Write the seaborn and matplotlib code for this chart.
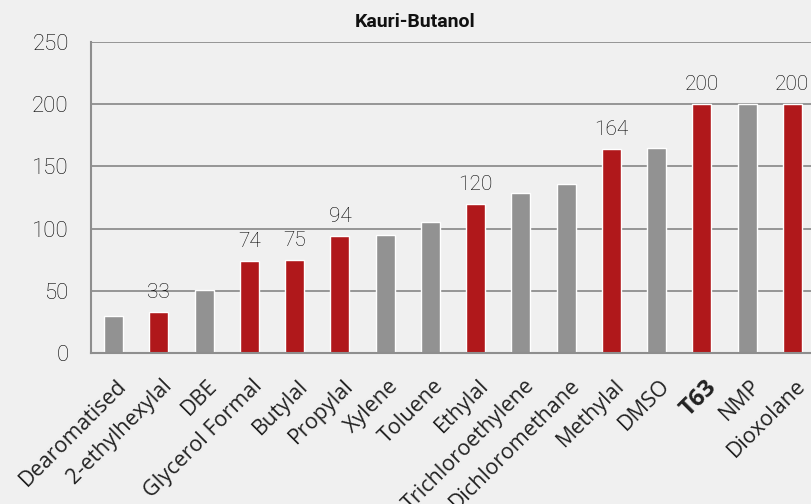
import matplotlib

matplotlib.use("Agg")

import matplotlib.pyplot as plt
import seaborn as sns
from matplotlib.transforms import ScaledTranslation

# chart data
solvents = [
    "Dearomatised", "2-ethylhexylal", "DBE", "Glycerol Formal", "Butylal",
    "Propylal", "Xylene", "Toluene", "Ethylal", "Trichloroethylene",
    "Dichloromethane", "Methylal", "DMSO", "T63", "NMP", "Dioxolane",
]
kb_values = [30, 33, 51, 74, 75, 94, 95, 105, 120, 129, 136, 164, 165, 200, 200, 200]
highlighted = [False, True, False, True, True, True, False, False, True,
               False, False, True, False, True, False, True]
y_ticks = [0, 50, 100, 150, 200, 250]

RED = "#b0181b"
GREY = "#929292"
BG = "#f0f0f0"
LINE = "#8e8e8e"

sns.set_style("white", {"axes.facecolor": BG, "figure.facecolor": BG})
plt.rcParams["font.family"] = ["Roboto", "DejaVu Sans"]

fig = plt.figure(figsize=(8.12, 5.04), dpi=100)
ax = fig.add_axes([91 / 812, 1 - 353 / 504, (815 - 91) / 812, (353 - 42) / 504])

palette = {s: (RED if h else GREY) for s, h in zip(solvents, highlighted)}
sns.barplot(x=solvents, y=kb_values, hue=solvents, palette=palette,
            width=0.42, legend=False, saturation=1, ax=ax)

ax.set_xlim(-0.5, len(solvents) - 0.5)
ax.set_ylim(0, 250)
ax.set_yticks(y_ticks)
ax.yaxis.grid(True, color=LINE, linewidth=1.3)
ax.set_axisbelow(True)
for side in ["top", "right"]:
    ax.spines[side].set_visible(False)
for side in ["left", "bottom"]:
    ax.spines[side].set_color(LINE)
    ax.spines[side].set_linewidth(1.5)

ax.tick_params(axis="y", length=6, width=1.3, color=LINE, pad=10,
               labelsize=16, labelcolor="#000000")
for lbl in ax.get_yticklabels():
    lbl.set_fontweight("light")
ax.tick_params(axis="x", length=0, pad=16)

# rotated category labels
ax.set_xticks(range(len(solvents)))
ax.set_xticklabels(solvents, rotation=45, ha="right", rotation_mode="anchor",
                   fontsize=15.5, family=["Open Sans", "DejaVu Sans"], color="#222222")
offset = ScaledTranslation(2 / 72, 0, fig.dpi_scale_trans)
for lbl in ax.get_xticklabels():
    lbl.set_transform(lbl.get_transform() + offset)
    if lbl.get_text() == "T63":
        lbl.set_fontweight("bold")
        lbl.set_fontsize(17)

# value labels on highlighted bars
for i, (v, h) in enumerate(zip(kb_values, highlighted)):
    if h:
        ax.annotate(f"{v}", (i, v), xytext=(0, 7), textcoords="offset points",
                    ha="center", va="bottom", fontsize=15, fontweight="light",
                    color="#000000", annotation_clip=False)

ax.set_xlabel("")
ax.set_ylabel("")
fig.text(415 / 812, 1 - 22 / 504, "Kauri-Butanol", ha="center", va="center",
         fontsize=14, fontweight="bold", color="#111111")

fig.savefig("out.png", dpi=100, facecolor=BG)
